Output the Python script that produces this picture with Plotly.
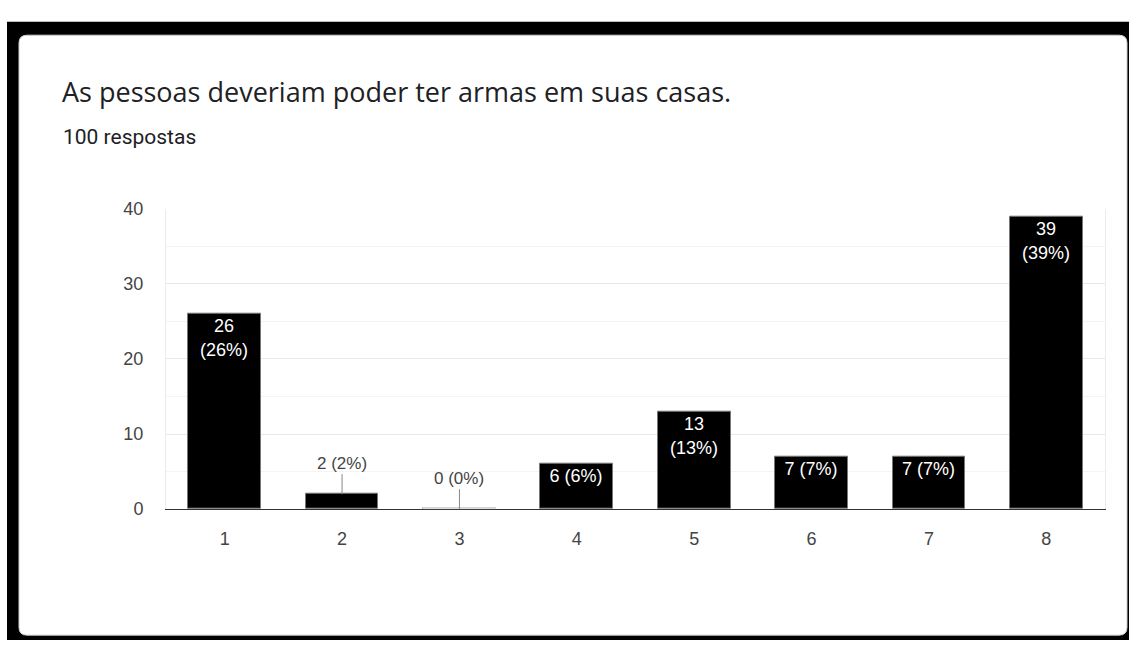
import plotly.graph_objects as go

# Survey answers on a 1-8 scale
categories = [1, 2, 3, 4, 5, 6, 7, 8]
counts = [26, 2, 0, 6, 13, 7, 7, 39]
total = 100
y_ticks = [0, 10, 20, 30, 40]

title = "As pessoas deveriam poder ter armas em suas casas."
subtitle = f"{total} respostas"

W, H = 1129, 650


def fx(px):
    return px / W


def fy(py):
    return 1 - py / H


def label(v):
    pct = round(100 * v / total)
    sep = "<br>" if v >= 10 else " "
    return f"{v}{sep}({pct}%)"


# bars that are too short hold their label outside with a leader line
inside = [c >= 5 for c in counts]
bar_text = [label(v) if ok else "" for v, ok in zip(counts, inside)]

BAR_W = 0.62
AXIS_FONT = "Liberation Sans, Arial"

fig = go.Figure()
fig.add_trace(go.Bar(
    x=categories,
    y=counts,
    width=BAR_W,
    marker=dict(color="#000000", line=dict(color="#777777", width=1)),
    text=bar_text,
    textposition="inside",
    insidetextanchor="end",
    textangle=0,
    constraintext="none",
    textfont=dict(family=AXIS_FONT, size=18, color="#ffffff"),
    cliponaxis=False,
    hoverinfo="skip",
))

annotations = [
    dict(text=title, x=fx(60), y=fy(84), xref="paper", yref="paper",
         xanchor="left", yanchor="middle", showarrow=False,
         font=dict(family="Open Sans", size=27, color="#202124")),
    dict(text=subtitle, x=fx(61), y=fy(131), xref="paper", yref="paper",
         xanchor="left", yanchor="middle", showarrow=False,
         font=dict(family="Roboto", size=21, color="#202124")),
]
shapes = [
    # dark frame round the card
    dict(type="rect", xref="paper", yref="paper", x0=fx(7), x1=1, y0=0, y1=fy(12),
         fillcolor="#000000", line=dict(width=0), layer="below"),
]

# white card with rounded corners
L, R, T, B, r = 19, 1127, 26, 645, 8
card = (f"M {fx(L + r)},{fy(T)} L {fx(R - r)},{fy(T)} Q {fx(R)},{fy(T)} {fx(R)},{fy(T + r)} "
        f"L {fx(R)},{fy(B - r)} Q {fx(R)},{fy(B)} {fx(R - r)},{fy(B)} "
        f"L {fx(L + r)},{fy(B)} Q {fx(L)},{fy(B)} {fx(L)},{fy(B - r)} "
        f"L {fx(L)},{fy(T + r)} Q {fx(L)},{fy(T)} {fx(L + r)},{fy(T)} Z")
shapes.append(dict(type="path", path=card, xref="paper", yref="paper",
                   fillcolor="#ffffff", line=dict(color="#d0d0d0", width=1), layer="below"))

for c, v, ok in zip(categories, counts, inside):
    if ok:
        continue
    annotations.append(dict(
        x=c, y=v, xref="x", yref="y", text=label(v), showarrow=True,
        arrowhead=0, arrowwidth=1, arrowcolor="#888888", ax=0, ay=-31,
        font=dict(family=AXIS_FONT, size=17, color="#444444"),
    ))
    if v == 0:
        # an empty bar still shows its outline on the baseline
        shapes.append(dict(type="rect", xref="x", yref="y", ysizemode="pixel",
                           yanchor=v, y0=0, y1=2, x0=c - BAR_W / 2, x1=c + BAR_W / 2,
                           fillcolor="#dddddd", line=dict(width=0), layer="above"))

fig.update_layout(
    width=W, height=H, autosize=False,
    margin=dict(l=0, r=0, t=0, b=0),
    paper_bgcolor="#ffffff",
    plot_bgcolor="rgba(0,0,0,0)",
    showlegend=False,
    annotations=annotations,
    shapes=shapes,
    bargap=0,
    xaxis=dict(
        domain=[fx(166), fx(1105)],
        range=[0.5, 8.5],
        tickmode="array", tickvals=categories, ticktext=[str(c) for c in categories],
        showgrid=False, zeroline=False,
        showline=True, linecolor="#333333", linewidth=1,
        ticks="", ticklabelstandoff=13,
        tickfont=dict(family=AXIS_FONT, size=18, color="#444444"),
        fixedrange=True,
    ),
    yaxis=dict(
        domain=[fy(515), fy(205)],
        range=[0, 40],
        tickmode="array", tickvals=y_ticks,
        showgrid=True, gridcolor="#e8e8e8", gridwidth=1,
        minor=dict(dtick=5, showgrid=True, gridcolor="#f4f4f4"),
        zeroline=False,
        showline=True, mirror=True, linecolor="#ececec", linewidth=1,
        ticks="", ticklabelstandoff=18,
        tickfont=dict(family=AXIS_FONT, size=18, color="#444444"),
        fixedrange=True,
    ),
)

fig.write_html("out.html", config={"displayModeBar": False})
